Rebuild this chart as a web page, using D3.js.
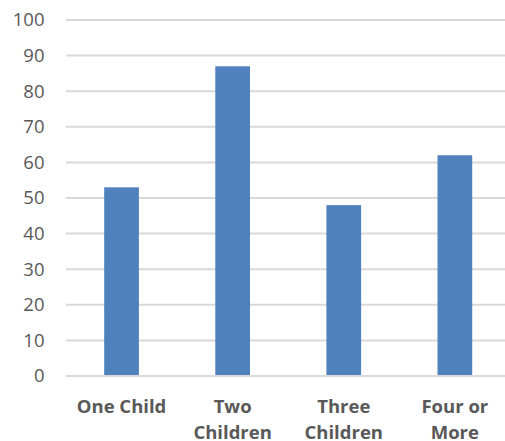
<!DOCTYPE html>
<html><head><meta charset="utf-8">
<script src="https://cdn.jsdelivr.net/npm/d3@7"></script>
<style>body{margin:0;background:#fff}svg{display:block}</style>
</head><body>
<svg id="c" width="505" height="441"></svg>
<script>
const categories = [["One Child"], ["Two", "Children"], ["Three", "Children"], ["Four or", "More"]];
const values = [53, 87, 48, 62];
const yTicks = [0, 10, 20, 30, 40, 50, 60, 70, 80, 90, 100];

const svg = d3.select("#c");
const mLeft = 66, mRight = 510.4, mTop = 20, mBottom = 376;
const keys = categories.map(c => c.join(" "));
const x = d3.scaleBand().domain(keys).range([mLeft, mRight]).paddingInner(0.6875).paddingOuter(0.34375);
const y = d3.scaleLinear().domain([0, 100]).range([mBottom, mTop]);

// gridlines
svg.append("g").selectAll("line").data(yTicks).join("line")
  .attr("x1", mLeft).attr("x2", mRight)
  .attr("y1", d => y(d)).attr("y2", d => y(d))
  .attr("stroke", "#d9d9d9").attr("stroke-width", 2);

// y tick labels
svg.append("g").selectAll("text").data(yTicks).join("text")
  .attr("x", 44.5).attr("y", d => y(d)).attr("dy", "0.35em")
  .attr("text-anchor", "end")
  .attr("font-family", "Open Sans").attr("font-size", 18.5).attr("fill", "#595959")
  .text(d => d);

// bars
svg.append("g").selectAll("rect").data(values).join("rect")
  .attr("x", (d, i) => x(keys[i])).attr("width", x.bandwidth())
  .attr("y", d => y(d)).attr("height", d => y(0) - y(d))
  .attr("fill", "#4f81bd");

// baseline
svg.append("line").attr("x1", mLeft).attr("x2", mRight).attr("y1", y(0)).attr("y2", y(0))
  .attr("stroke", "#d9d9d9").attr("stroke-width", 2);

// category labels
const lab = svg.append("g").selectAll("text").data(categories).join("text")
  .attr("x", (d, i) => x(keys[i]) + x.bandwidth() / 2)
  .attr("y", 412.5)
  .attr("text-anchor", "middle")
  .attr("font-family", "Open Sans").attr("font-weight", "bold").attr("font-size", 18.5).attr("fill", "#595959");
lab.selectAll("tspan").data(d => d).join("tspan")
  .attr("x", function() { return this.parentNode.getAttribute("x"); })
  .attr("dy", (d, i) => i === 0 ? 0 : 26.5)
  .text(d => d);
</script>
</body></html>
